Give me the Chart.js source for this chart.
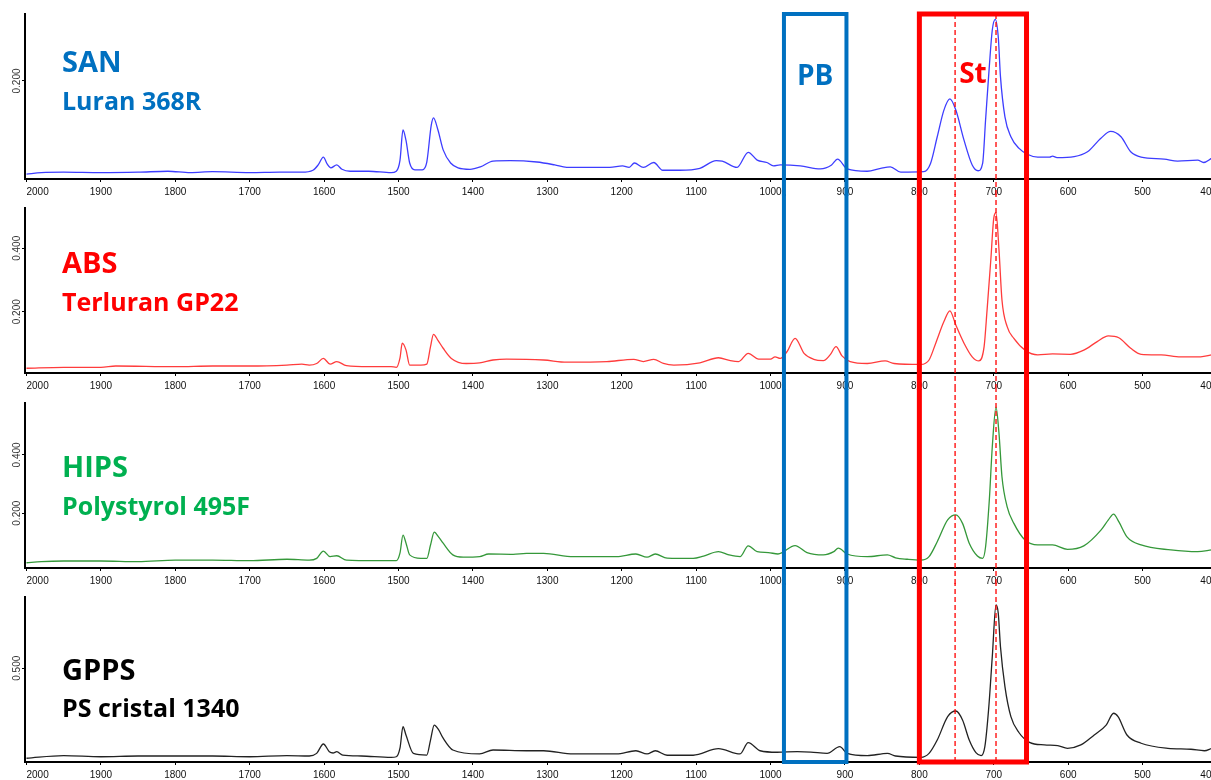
<!DOCTYPE html>
<html>
<head>
<meta charset="utf-8">
<title>IR spectra SAN / ABS / HIPS / GPPS</title>
<script src="https://cdn.jsdelivr.net/npm/chart.js@4.4.1/dist/chart.umd.min.js"></script>
<style>
  html, body { margin: 0; padding: 0; background: #fff; overflow: hidden; width: 1211px; height: 780px; }
  canvas { position: absolute; left: 0; }
</style>
</head>
<body>
<canvas id="p0" width="1240" height="196" style="top:0px"></canvas>
<canvas id="p1" width="1240" height="196" style="top:194px"></canvas>
<canvas id="p2" width="1240" height="196" style="top:389px"></canvas>
<canvas id="p3" width="1240" height="196" style="top:583px"></canvas>
<script>
// wavenumber ticks (cm-1), shared by every panel (ascending: axis is reversed)
const xTicks = [400, 500, 600, 700, 800, 900, 1000, 1100, 1200, 1300, 1400, 1500, 1600, 1700, 1800, 1900, 2000];

// marked regions
const pbRange = [982, 898];
const stRange = [800, 656];
const stMarkers = [752, 697];

// SAN - Luran 368R
const sanWave = [2000, 1980, 1950, 1900, 1850, 1810, 1780, 1750, 1700, 1660, 1630, 1615, 1608, 1601, 1596, 1591, 1583, 1576, 1565, 1540,
  1510, 1503, 1498, 1494, 1490, 1485, 1478, 1468, 1462, 1456, 1453, 1447, 1440, 1430, 1420, 1404, 1390, 1373, 1350, 1314,
  1290, 1274, 1216, 1199, 1190, 1183, 1171, 1157, 1145, 1122, 1095, 1073, 1065, 1045, 1030, 1018, 1005, 996, 987, 960,
  933, 918, 910, 897, 870, 852, 839, 825, 794, 785, 776, 767, 759, 751, 740, 729, 721, 715, 711, 706,
  702, 698, 694, 691, 685, 677, 666, 655, 641, 625, 621, 615, 592, 574, 556, 543, 529, 516, 502, 471,
  453, 426, 418, 407];
const sanAbs = [0.008, 0.011, 0.012, 0.011, 0.012, 0.014, 0.011, 0.013, 0.011, 0.012, 0.012, 0.016, 0.027, 0.043, 0.029, 0.021, 0.027, 0.018, 0.014, 0.014,
  0.011, 0.014, 0.037, 0.099, 0.078, 0.031, 0.017, 0.017, 0.033, 0.109, 0.124, 0.099, 0.058, 0.031, 0.021, 0.018, 0.023, 0.035, 0.036, 0.033,
  0.027, 0.022, 0.022, 0.025, 0.022, 0.031, 0.022, 0.032, 0.016, 0.016, 0.020, 0.036, 0.035, 0.022, 0.053, 0.037, 0.032, 0.025, 0.027, 0.025,
  0.019, 0.027, 0.039, 0.019, 0.014, 0.020, 0.023, 0.012, 0.013, 0.030, 0.085, 0.140, 0.163, 0.140, 0.078, 0.027, 0.015, 0.030, 0.120, 0.230,
  0.305, 0.327, 0.291, 0.209, 0.126, 0.085, 0.061, 0.049, 0.043, 0.043, 0.045, 0.042, 0.044, 0.054, 0.082, 0.096, 0.085, 0.054, 0.043, 0.039,
  0.035, 0.037, 0.032, 0.041];
const sanTicks = [0.2];

// ABS - Terluran GP22
const absWave = [2000, 1950, 1900, 1880, 1800, 1750, 1700, 1650, 1630, 1620, 1610, 1601, 1592, 1583, 1570, 1540, 1510, 1503, 1498, 1495,
  1490, 1485, 1470, 1462, 1457, 1453, 1447, 1440, 1429, 1409, 1391, 1373, 1355, 1305, 1274, 1220, 1184, 1171, 1157, 1144,
  1130, 1095, 1070, 1054, 1043, 1030, 1016, 1000, 994, 987, 978, 967, 955, 942, 929, 920, 912, 904, 893, 870,
  846, 834, 798, 787, 778, 767, 759, 751, 740, 729, 720, 713, 709, 704, 700, 697, 693, 689, 682, 673,
  658, 641, 621, 597, 579, 561, 546, 532, 516, 502, 475, 449, 422, 407];
const absAbs = [0.022, 0.025, 0.025, 0.029, 0.027, 0.029, 0.029, 0.032, 0.035, 0.032, 0.037, 0.053, 0.035, 0.043, 0.030, 0.027, 0.027, 0.025, 0.055, 0.101,
  0.080, 0.032, 0.032, 0.035, 0.090, 0.129, 0.110, 0.085, 0.053, 0.037, 0.039, 0.048, 0.051, 0.048, 0.041, 0.043, 0.050, 0.043, 0.050, 0.037,
  0.032, 0.039, 0.055, 0.046, 0.043, 0.069, 0.051, 0.051, 0.058, 0.053, 0.074, 0.116, 0.069, 0.050, 0.046, 0.064, 0.090, 0.061, 0.043, 0.037,
  0.045, 0.037, 0.034, 0.048, 0.101, 0.169, 0.203, 0.158, 0.101, 0.058, 0.045, 0.090, 0.206, 0.363, 0.495, 0.512, 0.395, 0.237, 0.153, 0.116,
  0.079, 0.064, 0.067, 0.066, 0.079, 0.106, 0.124, 0.118, 0.085, 0.066, 0.064, 0.058, 0.058, 0.064];
const absTicks = [0.2, 0.4];

// HIPS - Polystyrol 495F
const hipsWave = [2000, 1980, 1950, 1900, 1850, 1800, 1750, 1700, 1650, 1620, 1610, 1601, 1592, 1583, 1570, 1530, 1503, 1498, 1494, 1490,
  1485, 1470, 1462, 1457, 1452, 1446, 1440, 1427, 1413, 1391, 1379, 1346, 1328, 1305, 1265, 1207, 1181, 1166, 1155, 1139,
  1104, 1090, 1070, 1056, 1041, 1030, 1018, 1003, 990, 967, 951, 929, 915, 909, 897, 870, 843, 832, 816, 798,
  787, 776, 762, 751, 742, 733, 722, 715, 711, 706, 702, 697, 693, 689, 682, 673, 658, 641, 621, 601,
  579, 556, 546, 539, 532, 521, 502, 462, 426, 407];
const hipsAbs = [0.030, 0.034, 0.036, 0.036, 0.034, 0.039, 0.039, 0.037, 0.042, 0.039, 0.045, 0.070, 0.051, 0.054, 0.039, 0.037, 0.037, 0.064, 0.125, 0.098,
  0.057, 0.045, 0.045, 0.091, 0.135, 0.118, 0.097, 0.057, 0.049, 0.051, 0.060, 0.059, 0.062, 0.062, 0.051, 0.051, 0.060, 0.049, 0.060, 0.046,
  0.045, 0.053, 0.068, 0.057, 0.051, 0.088, 0.068, 0.065, 0.060, 0.089, 0.065, 0.057, 0.068, 0.080, 0.060, 0.051, 0.057, 0.047, 0.042, 0.039,
  0.051, 0.102, 0.177, 0.194, 0.165, 0.097, 0.053, 0.045, 0.085, 0.245, 0.428, 0.564, 0.474, 0.325, 0.222, 0.165, 0.108, 0.091, 0.091, 0.076,
  0.088, 0.142, 0.177, 0.197, 0.171, 0.119, 0.091, 0.074, 0.068, 0.074];
const hipsTicks = [0.2, 0.4];

// GPPS - PS cristal 1340
const gppsWave = [2000, 1950, 1900, 1850, 1800, 1750, 1700, 1650, 1620, 1610, 1601, 1593, 1588, 1583, 1575, 1550, 1510, 1503, 1498, 1494,
  1490, 1480, 1462, 1457, 1452, 1446, 1440, 1427, 1391, 1373, 1328, 1305, 1265, 1207, 1181, 1166, 1155, 1139, 1104, 1070,
  1041, 1030, 1014, 991, 964, 946, 924, 907, 897, 870, 843, 832, 798, 787, 776, 762, 751, 742, 733, 724,
  717, 712, 707, 702, 697, 694, 691, 685, 677, 666, 652, 632, 614, 601, 583, 565, 549, 539, 533, 521,
  502, 466, 435, 417, 407];
const gppsAbs = [0.020, 0.034, 0.028, 0.032, 0.032, 0.032, 0.028, 0.034, 0.032, 0.046, 0.096, 0.055, 0.048, 0.055, 0.037, 0.032, 0.025, 0.028, 0.075, 0.188,
  0.144, 0.046, 0.037, 0.117, 0.197, 0.171, 0.127, 0.064, 0.043, 0.064, 0.060, 0.060, 0.043, 0.043, 0.060, 0.043, 0.060, 0.036, 0.036, 0.071,
  0.043, 0.103, 0.060, 0.052, 0.055, 0.053, 0.046, 0.082, 0.046, 0.034, 0.046, 0.032, 0.025, 0.046, 0.117, 0.242, 0.272, 0.224, 0.117, 0.050,
  0.034, 0.082, 0.278, 0.562, 0.838, 0.794, 0.615, 0.402, 0.242, 0.156, 0.105, 0.091, 0.087, 0.073, 0.091, 0.144, 0.197, 0.260, 0.242, 0.144,
  0.100, 0.073, 0.068, 0.060, 0.073];
const gppsTicks = [0.5];

const panels = [
  { id: 'p0', name: 'SAN', grade: 'Luran 368R', textColor: '#0070c0', lineColor: '#3d3dff',
    wave: sanWave, abs: sanAbs, ticks: sanTicks, yMin: -0.002, yMax: 0.338, nameY: 58, gradeY: 96 },
  { id: 'p1', name: 'ABS', grade: 'Terluran GP22', textColor: '#ff0000', lineColor: '#ff3c3c',
    wave: absWave, abs: absAbs, ticks: absTicks, yMin: 0.007, yMax: 0.527, nameY: 65, gradeY: 103 },
  { id: 'p2', name: 'HIPS', grade: 'Polystyrol 495F', textColor: '#00b050', lineColor: '#35983a',
    wave: hipsWave, abs: hipsAbs, ticks: hipsTicks, yMin: 0.012, yMax: 0.578, nameY: 74, gradeY: 112 },
  { id: 'p3', name: 'GPPS', grade: 'PS cristal 1340', textColor: '#000000', lineColor: '#222222',
    wave: gppsWave, abs: gppsAbs, ticks: gppsTicks, yMin: 0, yMax: 0.880, nameY: 83, gradeY: 120 }
];

const labelFont = '"Open Sans", "DejaVu Sans", sans-serif';

// sample names in the upper left corner of each panel
const panelLabels = {
  id: 'panelLabels',
  afterDraw(chart, args, opts) {
    const p = panels[opts.index];
    const { ctx, chartArea } = chart;
    ctx.save();
    ctx.fillStyle = p.textColor;
    ctx.textAlign = 'left';
    ctx.textBaseline = 'alphabetic';
    ctx.font = 'bold 29px ' + labelFont;
    ctx.fillText(p.name, chartArea.left + 37, chartArea.top + p.nameY);
    ctx.font = 'bold 25px ' + labelFont;
    ctx.fillText(p.grade, chartArea.left + 37, chartArea.top + p.gradeY);
    ctx.restore();
  }
};

// PB and St boxes running through all four panels
const regions = {
  id: 'regions',
  afterDraw(chart, args, opts) {
    const { ctx, chartArea, scales: { x } } = chart;
    const first = opts.index === 0;
    const last = opts.index === panels.length - 1;
    const yTop = first ? chartArea.top : -2;
    const yBot = last ? chartArea.bottom : chart.height + 2;

    const box = (range, color, width) => {
      const xl = x.getPixelForValue(range[0]);
      const xr = x.getPixelForValue(range[1]);
      ctx.strokeStyle = color;
      ctx.lineWidth = width;
      ctx.beginPath();
      if (first) {
        ctx.moveTo(xl, yBot); ctx.lineTo(xl, yTop); ctx.lineTo(xr, yTop); ctx.lineTo(xr, yBot);
      } else if (last) {
        ctx.moveTo(xl, yTop); ctx.lineTo(xl, yBot); ctx.lineTo(xr, yBot); ctx.lineTo(xr, yTop);
      } else {
        ctx.moveTo(xl, yTop); ctx.lineTo(xl, yBot);
        ctx.moveTo(xr, yTop); ctx.lineTo(xr, yBot);
      }
      ctx.stroke();
    };

    ctx.save();
    ctx.lineJoin = 'miter';

    ctx.setLineDash([5, 3]);
    ctx.strokeStyle = '#ff0000';
    ctx.lineWidth = 1.3;
    stMarkers.forEach(w => {
      const px = x.getPixelForValue(w);
      ctx.beginPath();
      ctx.moveTo(px, yTop);
      ctx.lineTo(px, yBot);
      ctx.stroke();
    });
    ctx.setLineDash([]);

    box(pbRange, '#0070c0', 4);
    box(stRange, '#ff0000', 5);

    if (first) {
      ctx.font = 'bold 28px ' + labelFont;
      ctx.textAlign = 'center';
      ctx.textBaseline = 'alphabetic';
      ctx.fillStyle = '#0070c0';
      ctx.fillText('PB', x.getPixelForValue((pbRange[0] + pbRange[1]) / 2), chartArea.top + 71);
      ctx.fillStyle = '#ff0000';
      ctx.fillText('St', x.getPixelForValue((stRange[0] + stRange[1]) / 2), chartArea.top + 69);
    }
    ctx.restore();
  }
};

panels.forEach((p, index) => {
  new Chart(document.getElementById(p.id), {
    type: 'line',
    data: {
      datasets: [{
        data: p.wave.map((w, i) => ({ x: w, y: p.abs[i] })),
        borderColor: p.lineColor,
        borderWidth: 1.3,
        pointRadius: 0,
        fill: false,
        cubicInterpolationMode: 'monotone'
      }]
    },
    options: {
      responsive: false,
      animation: false,
      layout: { padding: { top: 14, right: 23, bottom: 0, left: 0 } },
      plugins: {
        legend: { display: false },
        tooltip: { enabled: false },
        panelLabels: { index },
        regions: { index }
      },
      scales: {
        x: {
          type: 'linear',
          reverse: true,
          min: 400,
          max: 2002,
          afterBuildTicks: scale => { scale.ticks = xTicks.map(v => ({ value: v })); },
          afterFit: scale => { scale.height = 17; scale.paddingLeft = 0; scale.paddingRight = 0; },
          border: { display: true, color: '#000', width: 2 },
          grid: { display: true, drawOnChartArea: false, drawTicks: true, tickLength: 3, color: '#000' },
          ticks: {
            align: 'inner',
            autoSkip: false,
            maxRotation: 0,
            minRotation: 0,
            padding: 4,
            color: '#111',
            font: { family: '"Liberation Sans", Arial, sans-serif', size: 10 },
            callback: v => String(v)
          }
        },
        y: {
          type: 'linear',
          min: p.yMin,
          max: p.yMax,
          afterBuildTicks: scale => { scale.ticks = p.ticks.map(v => ({ value: v })); },
          afterFit: scale => { scale.width = 25; scale.paddingTop = 0; scale.paddingBottom = 0; },
          border: { display: true, color: '#000', width: 2 },
          grid: { display: true, drawOnChartArea: false, drawTicks: true, tickLength: 3, color: '#000' },
          ticks: {
            minRotation: 90,
            maxRotation: 90,
            crossAlign: 'center',
            padding: -8,
            color: '#333',
            font: { family: '"Liberation Sans", Arial, sans-serif', size: 10 },
            callback: v => v.toFixed(3)
          }
        }
      }
    },
    plugins: [panelLabels, regions]
  });
});
</script>
</body>
</html>
